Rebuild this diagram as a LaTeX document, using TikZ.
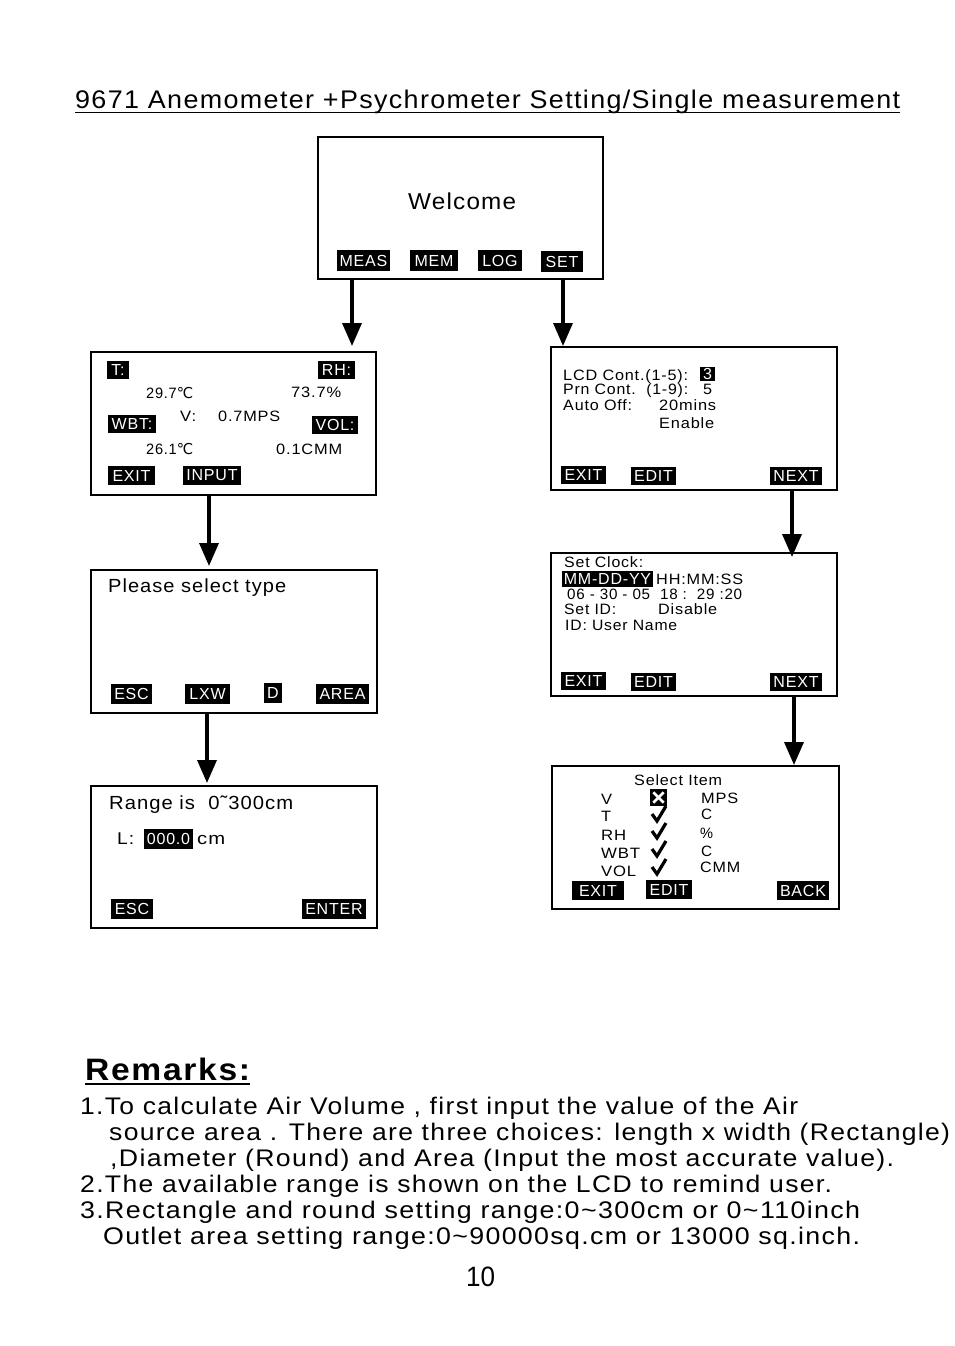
\documentclass[tikz,border=0pt]{standalone}
\usepackage{fontspec}
\usepackage{graphicx}
\setmainfont{Liberation Sans}
\newfontfamily\lcdf[LetterSpace=5]{Liberation Sans}
\newfontfamily\djv{DejaVu Sans}
\usetikzlibrary{arrows.meta}
\newsavebox\fitbx
\newcommand\fitw[2]{\sbox\fitbx{#2}\pgfmathsetmacro\fsc{#1/\the\wd\fitbx}\scalebox{\fsc}[1]{\usebox\fitbx}}
% name, x, baseline y, width, size, text
\newcommand\txt[6]{\node[anchor=base west,inner sep=0pt] (#1) at (#2,#3) {\fontsize{#5}{#5}\selectfont\lcdf\fitw{#4}{#6}};}
% name, x1, y1, x2, y2, text
\newcommand\keyb[6]{\node[lcdkey,minimum width={#4-#2},minimum height={#5-#3}] (#1) at ({(#2+#4)/2},{(#3+#5)/2}) {#6};}
\newcommand\scr[5]{\node[screen,minimum width={#4-#2},minimum height={#5-#3}] (#1) at ({(#2+#4)/2},{(#3+#5)/2}) {};}
\newcommand\degc{{\djv ℃}}
\tikzset{
  lcdkey/.style={fill=black,text=white,inner sep=0pt,font=\fontsize{16}{16}\selectfont\lcdf},
  screen/.style={draw=black,line width=1.2pt,inner sep=0pt,fill=none},
  arr/.style={line width=3.5pt,-{Triangle[width=19pt,length=23pt]}},
  chk/.style={line width=3.2pt,line cap=butt,line join=miter},
  para/.style={anchor=base west,inner sep=0pt,font=\fontsize{24}{24}\selectfont\lcdf},
}
\begin{document}
\begin{tikzpicture}[x=1pt,y=-1pt]
\useasboundingbox[fill=white] (0,0) rectangle (954,1346);

% title
\node[anchor=base west,inner sep=0pt] (title) at (75,108) {\fontsize{25.5}{25.5}\selectfont\lcdf\fitw{825}{9671 Anemometer +Psychrometer Setting/Single measurement}};
\draw[line width=1.6pt] (title.base west) ++(0,4.5) coordinate (tu1) -- (tu1 -| title.east);

% screens
\scr{welcome}{318}{137}{603}{279}
\scr{meas}{91}{352}{376}{495}
\scr{sel}{91}{570}{377}{713}
\scr{range}{91}{786}{377}{928}
\scr{lcd}{551}{347}{837}{490}
\scr{clock}{551}{553}{837}{696}
\scr{item}{552}{766}{839}{909}

% welcome
\txt{wtxt}{408}{209}{108}{23}{Welcome}
\keyb{kmeas}{337}{250}{390}{271}{MEAS}
\keyb{kmem}{410}{250}{458}{271}{MEM}
\keyb{klog}{478}{250}{522}{271}{LOG}
\keyb{kset}{541}{251}{583}{272}{SET}

% measurement screen
\keyb{kt}{107}{361}{129}{379}{T:}
\keyb{krh}{318}{361}{355}{379}{RH:}
\txt{m1}{146}{398}{47}{15}{29.7\degc}
\txt{m2}{291}{397}{50}{15}{73.7\%}
\txt{m3}{180}{421}{16}{15}{V:}
\txt{m4}{218}{421}{62}{15}{0.7MPS}
\keyb{kwbt}{108}{415}{156}{433}{WBT:}
\keyb{kvol}{312}{416}{358}{434}{VOL:}
\txt{m5}{146}{454}{47}{15}{26.1\degc}
\txt{m6}{276}{454}{66}{15}{0.1CMM}
\keyb{kexit1}{108}{466}{155}{485}{EXIT}
\keyb{kinput}{183}{466}{241}{485}{INPUT}

% please select type
\txt{s1}{108}{592}{178}{19}{Please select type}
\keyb{kesc1}{111}{684}{152}{704}{ESC}
\keyb{klxw}{185}{684}{230}{704}{LXW}
\keyb{kd}{264}{683}{282}{703}{D}
\keyb{karea}{316}{684}{369}{704}{AREA}

% range
\txt{r1}{109}{809}{184}{19}{Range is\ \ 0˜300cm}
\txt{r2}{117}{844}{17}{17}{L:}
\keyb{kval}{144}{829}{193}{849}{000.0}
\txt{r3}{197}{844}{28}{17}{cm}
\keyb{kesc2}{111}{899}{153}{919}{ESC}
\keyb{kenter}{302}{899}{366}{919}{ENTER}

% LCD contrast screen
\txt{l1}{563}{380}{125}{15}{LCD Cont.(1-5):}
\keyb{k3}{700}{367}{715}{381}{3}
\txt{l2}{563}{394}{125}{15}{Prn Cont.\ \ (1-9):}
\txt{l3}{703}{394}{9}{15}{5}
\txt{l4}{563}{410}{69}{15}{Auto Off:}
\txt{l5}{659}{410}{57}{15}{20mins}
\txt{l6}{659}{428}{55}{15}{Enable}
\keyb{kexit2}{561}{466}{606}{484}{EXIT}
\keyb{kedit2}{631}{467}{676}{485}{EDIT}
\keyb{knext2}{770}{467}{822}{485}{NEXT}

% clock screen
\txt{c1}{564}{567}{79}{15}{Set Clock:}
\keyb{kmdy}{562}{571}{653}{587}{MM-DD-YY}
\txt{c2}{656}{584}{87}{15}{HH:MM:SS}
\txt{c3}{567}{599}{175}{15}{06 - 30 - 05\ \ 18 :\ \ 29 :20}
\txt{c4}{564}{614}{52}{15}{Set ID:}
\txt{c5}{658}{614}{59}{15}{Disable}
\txt{c6}{565}{630}{112}{15}{ID: User Name}
\keyb{kexit3}{561}{672}{606}{690}{EXIT}
\keyb{kedit3}{631}{673}{676}{691}{EDIT}
\keyb{knext3}{770}{673}{822}{691}{NEXT}

% select item screen
\txt{i0}{634}{785}{88}{15}{Select Item}
\txt{i1}{601}{804}{11}{15}{V}
\txt{i2}{601}{821}{10}{15}{T}
\txt{i3}{601}{840}{25}{15}{RH}
\txt{i4}{601}{858}{39}{15}{WBT}
\txt{i5}{601}{876}{35}{15}{VOL}
\node[fill=black,minimum width=17pt,minimum height=17pt,inner sep=0pt] (xbox) at (658.5,797.5) {};
\draw[white,line width=2.6pt] ([shift={(3.5pt,-3.5pt)}]xbox.north west) -- ([shift={(-3.5pt,3.5pt)}]xbox.south east);
\draw[white,line width=2.6pt] ([shift={(-3.5pt,-3.5pt)}]xbox.north east) -- ([shift={(3.5pt,3.5pt)}]xbox.south west);
\foreach \yy/\nm in {815/ck1,832/ck2,850/ck3,868/ck4}{
  \coordinate (\nm) at (659,\yy);
  \draw[chk] ([shift={(-7,-1)}]\nm) -- ([shift={(-2,6)}]\nm) -- ([shift={(7,-9)}]\nm);
}
\txt{u1}{701}{803}{37}{15}{MPS}
\txt{u2}{701}{819}{11}{15}{C}
\txt{u3}{700}{838}{13}{15}{\%}
\txt{u4}{701}{856}{11}{15}{C}
\txt{u5}{700}{872}{40}{15}{CMM}
\keyb{kexit4}{572}{881}{624}{900}{EXIT}
\keyb{kedit4}{646}{880}{692}{899}{EDIT}
\keyb{kback}{777}{881}{829}{900}{BACK}

% arrows
\coordinate (e1) at (352,346);
\coordinate (e2) at (563,346);
\coordinate (e3) at (209,566);
\coordinate (e4) at (207,783);
\coordinate (e5) at (792,557);
\coordinate (e6) at (794,765);
\draw[arr] (welcome.south -| e1) -- (e1);
\draw[arr] (welcome.south -| e2) -- (e2);
\draw[arr] (meas.south -| e3) -- (e3);
\draw[arr] (sel.south -| e4) -- (e4);
\draw[arr] (lcd.south -| e5) -- (e5);
\draw[arr] (clock.south -| e6) -- (e6);

% remarks
\node[anchor=base west,inner sep=0pt] (rem) at (85,1080) {\fontsize{31}{31}\selectfont\lcdf\bfseries\fitw{165}{Remarks:}};
\draw[line width=2.2pt] (rem.base west) ++(0,4) coordinate (ru1) -- (ru1 -| rem.east);
\node[para] (rl1) at (80,1114) {\fitw{718}{1.To calculate Air Volume , first input the value of the Air}};
\node[para] (rl2) at (109,1140) {\fitw{841}{source area . There are three choices: length x width (Rectangle)}};
\node[para] (rl3) at (110,1166) {\fitw{784}{,Diameter (Round) and Area (Input the most accurate value).}};
\node[para] (rl4) at (80,1192) {\fitw{752}{2.The available range is shown on the LCD to remind user.}};
\node[para] (rl5) at (80,1218) {\fitw{780}{3.Rectangle and round setting range:0\textasciitilde300cm or 0\textasciitilde110inch}};
\node[para] (rl6) at (103,1244) {\fitw{757}{Outlet area setting range:0\textasciitilde90000sq.cm or 13000 sq.inch.}};
\node[anchor=base west,inner sep=0pt] (pg) at (466,1286) {\fontsize{28}{28}\selectfont\fitw{29}{10}};
\end{tikzpicture}
\end{document}
